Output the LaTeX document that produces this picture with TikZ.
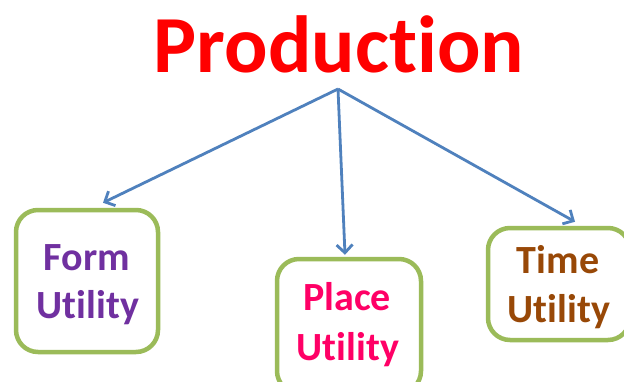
\documentclass[tikz,border=0pt]{standalone}
\usepackage{fontspec}
\setmainfont[Ligatures=NoCommon,RawFeature=-liga]{Carlito}
\usetikzlibrary{arrows.meta}
\definecolor{titlered}{HTML}{FF0000}
\definecolor{boxgreen}{HTML}{9BBB59}
\definecolor{arrowblue}{HTML}{4F81BD}
\definecolor{formpurple}{HTML}{7030A0}
\definecolor{placepink}{HTML}{FF0066}
\definecolor{timebrown}{HTML}{984807}
\tikzset{
  utilbox/.style={draw=boxgreen, line width=4.5pt, rounded corners=22pt,
    fill=white, inner sep=0pt},
  utiltext/.style={font=\bfseries\fontsize{40}{48}\selectfont, anchor=base,
    inner sep=0pt},
  branch/.style={draw=arrowblue, line width=2.8pt,
    -{Straight Barb[length=8pt,width=16pt,line width=2.8pt]}},
}
\begin{document}
\begin{tikzpicture}[x=1pt,y=-1pt]
\useasboundingbox (0,0) rectangle (624,381);
\clip (0,0) rectangle (624,381);
\fill[white] (0,0) rectangle (624,381);

% heading
\node[anchor=base, inner sep=0pt, text=titlered,
      font=\bfseries\fontsize{81}{90}\selectfont] (title) at (339,72) {Production};
\coordinate (hub) at (338,89);

% the three utility boxes
\node[utilbox, minimum width=142pt, minimum height=142pt] (formbox)  at (87,281)  {};
\node[utilbox, minimum width=144pt, minimum height=134pt] (placebox) at (349,326) {};
\node[utilbox, minimum width=142pt, minimum height=112pt] (timebox)  at (559,284) {};

\node[utiltext, text=formpurple] (form1) at (87,270) {Form};
\node[utiltext, text=formpurple] (form2) at (88,318) {Utility};
\node[utiltext, text=placepink] (place1) at (347,310) {Place};
\node[utiltext, text=placepink] (place2) at (348,360) {Utility};
\node[utiltext, text=timebrown] (time1) at (558,273) {Time};
\node[utiltext, text=timebrown] (time2) at (559,322) {Utility};

% connectors
\draw[branch] (hub) -- ([xshift=16pt,yshift=5pt]formbox.north);
\draw[branch] (hub) -- ([xshift=-4pt,yshift=2pt]placebox.north);
\draw[branch] (hub) -- ([xshift=16pt,yshift=4pt]timebox.north);
\end{tikzpicture}
\end{document}
